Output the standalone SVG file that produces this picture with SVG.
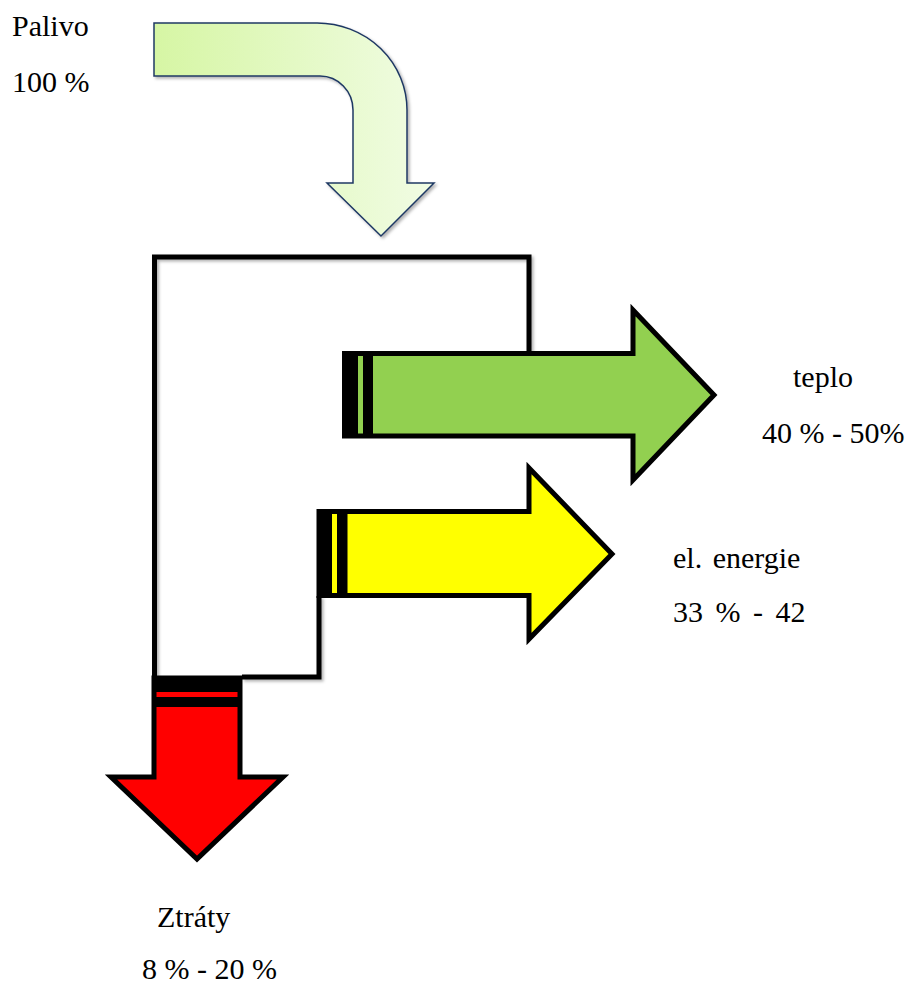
<svg xmlns="http://www.w3.org/2000/svg" width="914" height="987" viewBox="0 0 914 987">
<style>
  text { font-family: "Liberation Serif", "Times New Roman", serif; font-size: 30px; fill: #000; }
  .box { fill: none; stroke: #000; stroke-width: 5; stroke-linejoin: miter; filter: url(#sh); }
  .arr { stroke: #000; stroke-width: 5; stroke-linejoin: miter; }
  .blk { fill: #000; }
</style>
<defs>
  <linearGradient id="fuel" x1="154" y1="0" x2="434" y2="0" gradientUnits="userSpaceOnUse">
    <stop offset="0" stop-color="#d6f6a4"/>
    <stop offset="1" stop-color="#f1fce4"/>
  </linearGradient>
  <filter id="sh" x="-10%" y="-10%" width="130%" height="130%">
    <feDropShadow dx="2" dy="2" stdDeviation="1.5" flood-color="#000" flood-opacity="0.3"/>
  </filter>
</defs>
<rect width="914" height="987" fill="#fff"/>

<g id="connectors">
  <path class="box" d="M154.5,676 L154.5,257 L529,257 L529,353"/>
  <path class="box" d="M345,436 L345,511"/>
  <path class="box" d="M319,596 L319,677 L242,677"/>
</g>

<g id="palivo">
  <path d="M154,23 L317,23 A90,87 0 0 1 407,110 L407,183 L434,183 L381,236 L327,183 L353,183 L353,110 A33,34 0 0 0 320,76 L154,76 Z" fill="url(#fuel)" stroke="#1f3864" stroke-width="1.5" filter="url(#sh)"/>
  <text x="12" y="36">Palivo</text>
  <text x="12" y="92">100 %</text>
</g>

<g id="teplo">
  <polygon class="arr" fill="#92d050" points="344.5,353.5 633,353.5 633,310 714,395 633,480 633,436 344.5,436"/>
  <rect class="blk" x="344" y="354" width="14" height="82"/>
  <rect class="blk" x="363" y="354" width="10" height="82"/>
  <text x="793" y="387">teplo</text>
  <text x="762" y="443">40 % - 50%</text>
</g>

<g id="elektrina">
  <polygon class="arr" fill="#ffff00" points="319,511.5 529,511.5 529,468 612,554 529,639 529,595.5 319,595.5"/>
  <rect class="blk" x="318" y="512" width="14" height="83"/>
  <rect class="blk" x="337" y="512" width="10.5" height="83"/>
  <text x="673" y="568" word-spacing="3">el. energie</text>
  <text x="673" y="622" word-spacing="5">33 % - 42</text>
</g>

<g id="ztraty">
  <polygon class="arr" fill="#ff0000" points="154,678 240,678 240,777 283,777 197,859 111,777 154,777"/>
  <rect class="blk" x="154" y="678" width="86" height="14"/>
  <rect class="blk" x="154" y="697" width="86" height="10"/>
  <text x="157" y="927">Ztráty</text>
  <text x="142" y="979">8 % - 20 %</text>
</g>
</svg>
